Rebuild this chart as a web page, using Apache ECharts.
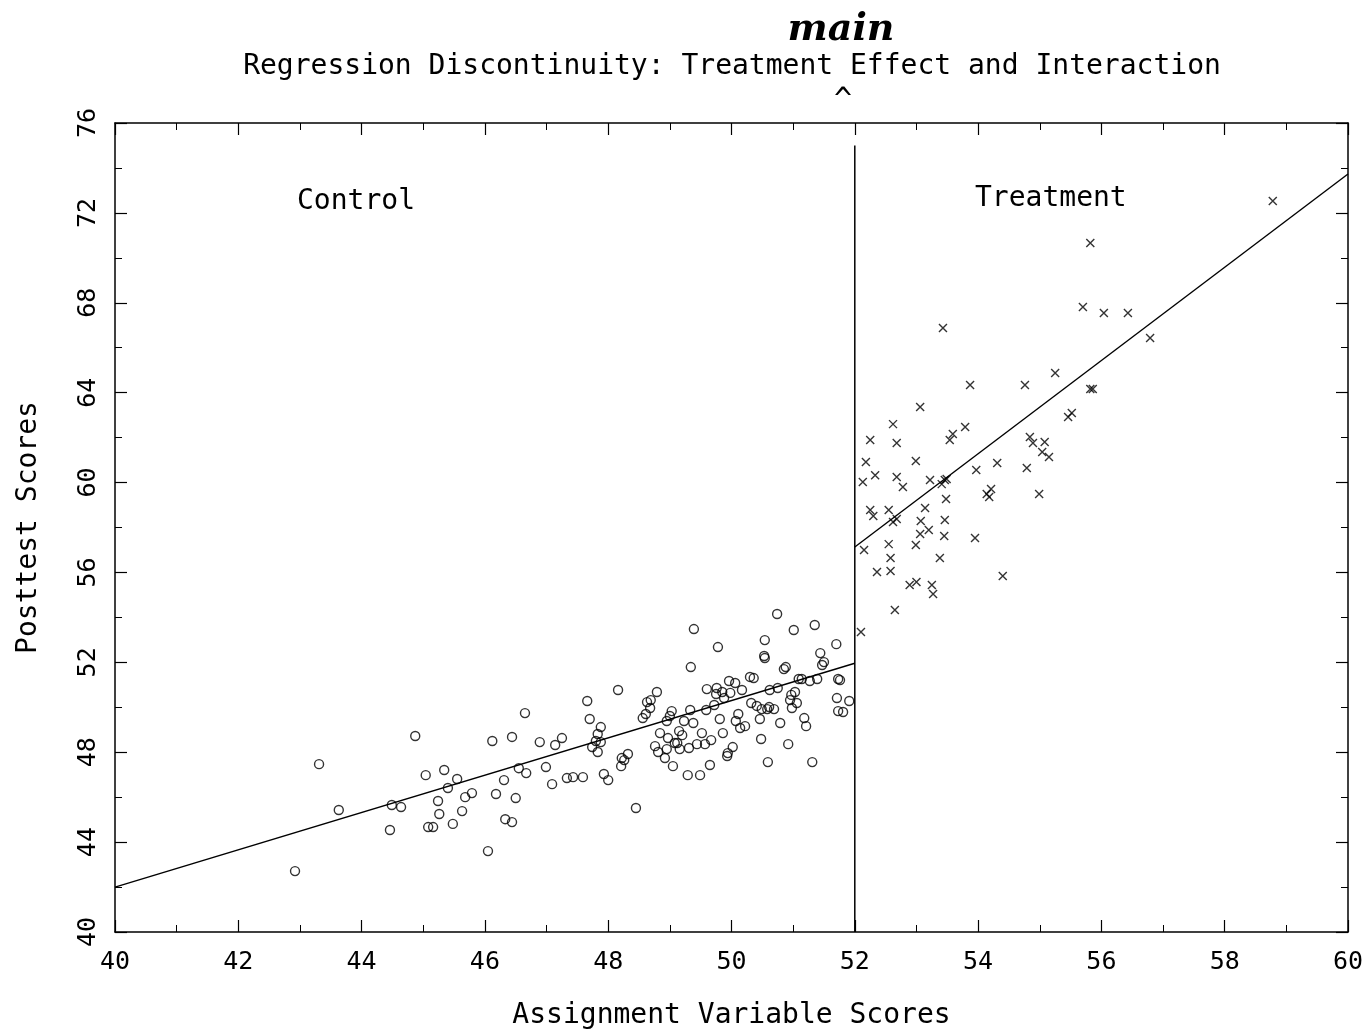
<!DOCTYPE html>
<html>
<head>
<meta charset="utf-8">
<title>Regression Discontinuity</title>
<script src="https://cdn.jsdelivr.net/npm/echarts@6/dist/echarts.min.js"></script>
<style>body{margin:0;background:#fff}</style>
</head>
<body>
<div id="main" style="width:1371px;height:1035px;"></div>
<script type="text/javascript">
// control group (circles)
var controlPts = [[42.92,42.71],[43.31,47.47],[43.63,45.43],[44.46,44.54],[44.49,45.65],[44.64,45.56],[44.87,48.72],[45.04,46.98],[45.08,44.67],[45.16,44.67],[45.24,45.83],[45.26,45.25],[45.34,47.21],[45.40,46.41],[45.48,44.81],[45.55,46.81],[45.63,45.38],[45.68,46.00],[45.79,46.18],[46.05,43.60],[46.12,48.50],[46.18,46.14],[46.31,46.76],[46.33,45.02],[46.44,44.89],[46.44,48.68],[46.50,45.96],[46.55,47.29],[46.65,49.74],[46.67,47.07],[46.89,48.45],[46.99,47.34],[47.09,46.58],[47.14,48.32],[47.25,48.63],[47.33,46.85],[47.43,46.89],[47.59,46.89],[47.66,50.28],[47.70,49.48],[47.74,48.23],[47.80,48.50],[47.83,48.81],[47.83,48.01],[47.88,49.12],[47.88,48.45],[47.93,47.03],[48.00,46.76],[48.16,50.77],[48.21,47.38],[48.22,47.74],[48.26,47.65],[48.32,47.92],[48.45,45.52],[48.56,49.52],[48.61,49.70],[48.63,50.23],[48.68,49.97],[48.69,50.32],[48.76,48.27],[48.79,50.68],[48.81,48.01],[48.84,48.85],[48.92,47.74],[48.95,48.14],[48.95,49.39],[48.97,48.63],[49.00,49.61],[49.03,49.83],[49.05,47.38],[49.08,48.41],[49.12,48.41],[49.15,48.94],[49.16,48.14],[49.20,48.76],[49.23,49.39],[49.29,46.98],[49.31,48.19],[49.33,49.88],[49.34,51.79],[49.38,49.30],[49.39,53.48],[49.44,48.36],[49.49,46.98],[49.52,48.85],[49.57,48.36],[49.59,49.88],[49.60,50.81],[49.65,47.43],[49.67,48.54],[49.72,50.10],[49.75,50.59],[49.76,50.86],[49.78,52.68],[49.81,49.48],[49.85,50.68],[49.86,48.85],[49.88,50.41],[49.93,47.83],[49.94,47.96],[49.96,51.17],[49.98,50.64],[50.02,48.23],[50.06,51.08],[50.07,49.39],[50.11,49.70],[50.14,49.08],[50.17,50.77],[50.22,49.16],[50.30,51.35],[50.32,50.19],[50.36,51.30],[50.41,50.06],[50.46,49.48],[50.48,48.59],[50.49,49.92],[50.53,52.28],[50.54,52.99],[50.54,52.19],[50.58,49.92],[50.59,47.56],[50.61,50.01],[50.62,50.77],[50.69,49.92],[50.74,54.15],[50.75,50.86],[50.79,49.30],[50.85,51.70],[50.88,51.79],[50.92,48.36],[50.95,50.32],[50.97,50.55],[50.98,49.97],[51.01,53.44],[51.03,50.68],[51.06,50.19],[51.09,51.26],[51.14,51.26],[51.18,49.52],[51.21,49.16],[51.27,51.17],[51.31,47.56],[51.35,53.66],[51.39,51.26],[51.44,52.41],[51.47,51.88],[51.50,52.01],[51.70,52.81],[51.71,50.41],[51.73,51.26],[51.76,51.21],[51.81,49.79],[51.91,50.28],[51.73,49.83]];
// treatment group (crosses)
var treatPts = [[58.78,72.53],[55.82,70.66],[55.70,67.81],[56.04,67.54],[56.43,67.54],[56.79,66.43],[53.43,66.88],[55.25,64.87],[53.87,64.34],[54.76,64.34],[55.86,64.16],[55.82,64.16],[53.06,63.36],[55.52,63.09],[55.46,62.92],[53.79,62.47],[52.62,62.60],[53.59,62.16],[53.54,61.89],[52.25,61.89],[54.84,62.03],[54.89,61.76],[55.08,61.81],[55.04,61.36],[55.15,61.14],[52.68,61.76],[52.18,60.91],[52.99,60.96],[52.33,60.33],[54.31,60.87],[53.97,60.56],[54.79,60.65],[52.13,60.02],[52.68,60.25],[52.78,59.80],[53.22,60.11],[53.46,60.11],[53.41,59.93],[53.49,60.16],[54.21,59.71],[54.14,59.49],[54.18,59.36],[54.99,59.49],[53.48,59.27],[52.25,58.78],[52.30,58.51],[52.55,58.78],[53.14,58.87],[53.46,58.33],[52.62,58.24],[52.68,58.38],[53.07,58.29],[53.20,57.89],[53.06,57.71],[53.45,57.62],[52.99,57.22],[53.95,57.53],[52.15,57.00],[52.55,57.26],[52.58,56.64],[53.38,56.64],[52.36,56.02],[52.58,56.06],[52.89,55.44],[53.00,55.57],[53.25,55.44],[53.27,55.04],[52.65,54.33],[54.40,55.84],[52.10,53.35]];
var controlFit = [[40,42.0],[52,51.96]];
var treatFit = [[52,57.13],[60,73.73]];
var cutoff = [[52,40],[52,75]];
var xTicks = [40,42,44,46,48,50,52,54,56,58,60];
var yTicks = [40,44,48,52,56,60,64,68,72,76];

var font = 'DejaVu Sans Mono';
var chart = echarts.init(document.getElementById('main'));
var axisBase = {
    type: 'value',
    axisLine: {lineStyle: {color: '#000', width: 1.5}},
    axisTick: {inside: true, length: 12, lineStyle: {color: '#000', width: 1.2}},
    minorTick: {show: true, splitNumber: 2, length: 7, lineStyle: {color: '#000'}},
    splitLine: {show: false}
};
var option = {
    animation: false,
    backgroundColor: '#fff',
    title: [{
        text: 'main', left: 836, top: 6, textAlign: 'center',
        textStyle: {fontFamily: 'DejaVu Serif', fontStyle: 'italic', fontWeight: 'bold', fontSize: 38, color: '#000'}
    }, {
        text: 'Regression Discontinuity: Treatment Effect and Interaction', left: 727, top: 48, textAlign: 'center',
        textStyle: {fontFamily: font, fontWeight: 'normal', fontSize: 28, color: '#000'}
    }],
    graphic: [
        {type: 'text', left: 834, top: 86, style: {text: '^', font: '30px DejaVu Sans Mono', fill: '#000'}},
        {type: 'text', left: 297, top: 188, style: {text: 'Control', font: '28px DejaVu Sans Mono', fill: '#000'}},
        {type: 'text', left: 975, top: 185, style: {text: 'Treatment', font: '28px DejaVu Sans Mono', fill: '#000'}}
    ],
    grid: {left: 115, right: 23, top: 123, bottom: 103},
    xAxis: [Object.assign({}, axisBase, {
        min: 40, max: 60, interval: 2,
        name: 'Assignment Variable Scores', nameLocation: 'middle', nameGap: 70,
        nameTextStyle: {fontFamily: font, fontSize: 28, color: '#000'},
        axisLabel: {fontFamily: font, fontSize: 25, color: '#000', margin: 18,
            formatter: function (v) { return xTicks.indexOf(v) >= 0 ? v : ''; }}
    }), Object.assign({}, axisBase, {
        min: 40, max: 60, interval: 2, position: 'top', axisLabel: {show: false}
    })],
    yAxis: [Object.assign({}, axisBase, {
        min: 40, max: 76, interval: 4,
        name: 'Posttest Scores', nameLocation: 'middle', nameGap: 72,
        nameTextStyle: {fontFamily: font, fontSize: 28, color: '#000'},
        axisLabel: {fontFamily: font, fontSize: 25, color: '#000', rotate: 90, margin: 14,
            formatter: function (v) { return yTicks.indexOf(v) >= 0 ? v : ''; }}
    }), Object.assign({}, axisBase, {
        min: 40, max: 76, interval: 4, position: 'right', axisLabel: {show: false}
    })],
    series: [{
        type: 'scatter', data: controlPts, symbol: 'circle', symbolSize: 9,
        itemStyle: {color: 'rgba(0,0,0,0)', borderColor: '#000', borderWidth: 1.4}
    }, {
        type: 'scatter', data: treatPts, symbol: 'path://M0,0L10,10M10,0L0,10', symbolSize: 8,
        itemStyle: {color: 'none', borderColor: '#000', borderWidth: 1.4}
    }, {
        type: 'line', data: controlFit, symbol: 'none', lineStyle: {color: '#000', width: 1.4}
    }, {
        type: 'line', data: treatFit, symbol: 'none', lineStyle: {color: '#000', width: 1.4}
    }, {
        type: 'line', data: cutoff, symbol: 'none', lineStyle: {color: '#000', width: 1.5}
    }]
};
chart.setOption(option);
</script>
</body>
</html>
